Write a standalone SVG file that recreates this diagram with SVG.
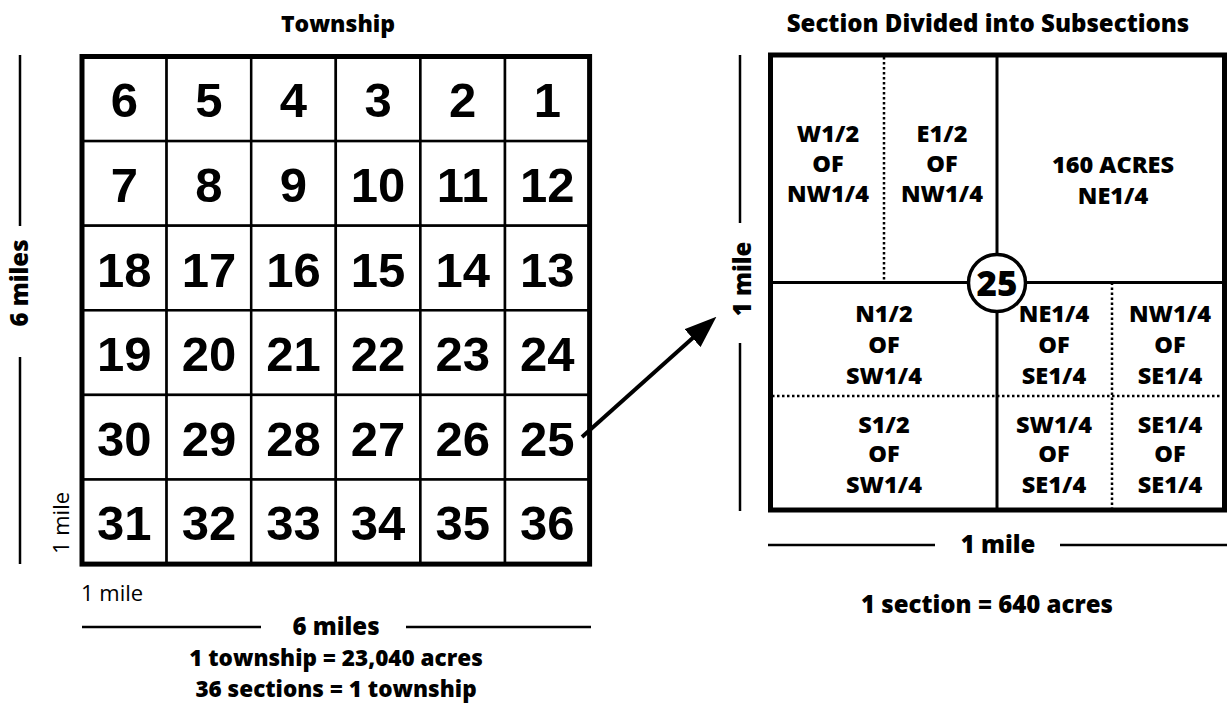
<svg xmlns="http://www.w3.org/2000/svg" width="1231" height="703" viewBox="0 0 1231 703">
<style>
.num{font-family:"Liberation Sans",Arial,sans-serif;font-weight:bold;font-size:49px;text-anchor:middle;fill:#000}
.lbl{font-family:"Open Sans","Noto Sans",sans-serif;font-weight:800;font-size:24px;text-anchor:middle;fill:#000}
.sub{font-family:"Open Sans","Noto Sans",sans-serif;font-weight:800;font-size:23.5px;text-anchor:middle;fill:#000}
.foot{font-family:"Open Sans","Noto Sans",sans-serif;font-weight:800;font-size:22.5px;text-anchor:middle;fill:#000}
.reg{font-family:"Open Sans","Noto Sans",sans-serif;font-weight:normal;font-size:22px;fill:#000}
.cell{fill:#fff;stroke:#000;stroke-width:2.5}
.outer{fill:none;stroke:#000;stroke-width:5}
.thin{stroke:#000;stroke-width:2.5;fill:none}
.mid{stroke:#000;stroke-width:3;fill:none}
.dot{stroke:#000;stroke-width:2.5;stroke-dasharray:2.5 2.5;fill:none}
</style>
<defs>
<marker id="ah" markerUnits="userSpaceOnUse" markerWidth="32" markerHeight="24" refX="10" refY="12" orient="auto">
<path d="M0,0 L32,12 L0,24 Z" fill="#000"/>
</marker>
</defs>
<rect width="1231" height="703" fill="#fff"/>

<!-- Township -->
<g id="township">
<text class="lbl" x="338" y="32" style="font-size:23px">Township</text>
<g id="grid-cells">
<rect class="cell" x="82" y="56.5" width="84.6" height="84.6"/><rect class="cell" x="166.6" y="56.5" width="84.6" height="84.6"/><rect class="cell" x="251.2" y="56.5" width="84.6" height="84.6"/><rect class="cell" x="335.8" y="56.5" width="84.6" height="84.6"/><rect class="cell" x="420.4" y="56.5" width="84.6" height="84.6"/><rect class="cell" x="505" y="56.5" width="84.6" height="84.6"/>
<rect class="cell" x="82" y="141.1" width="84.6" height="84.6"/><rect class="cell" x="166.6" y="141.1" width="84.6" height="84.6"/><rect class="cell" x="251.2" y="141.1" width="84.6" height="84.6"/><rect class="cell" x="335.8" y="141.1" width="84.6" height="84.6"/><rect class="cell" x="420.4" y="141.1" width="84.6" height="84.6"/><rect class="cell" x="505" y="141.1" width="84.6" height="84.6"/>
<rect class="cell" x="82" y="225.7" width="84.6" height="84.6"/><rect class="cell" x="166.6" y="225.7" width="84.6" height="84.6"/><rect class="cell" x="251.2" y="225.7" width="84.6" height="84.6"/><rect class="cell" x="335.8" y="225.7" width="84.6" height="84.6"/><rect class="cell" x="420.4" y="225.7" width="84.6" height="84.6"/><rect class="cell" x="505" y="225.7" width="84.6" height="84.6"/>
<rect class="cell" x="82" y="310.3" width="84.6" height="84.6"/><rect class="cell" x="166.6" y="310.3" width="84.6" height="84.6"/><rect class="cell" x="251.2" y="310.3" width="84.6" height="84.6"/><rect class="cell" x="335.8" y="310.3" width="84.6" height="84.6"/><rect class="cell" x="420.4" y="310.3" width="84.6" height="84.6"/><rect class="cell" x="505" y="310.3" width="84.6" height="84.6"/>
<rect class="cell" x="82" y="394.9" width="84.6" height="84.6"/><rect class="cell" x="166.6" y="394.9" width="84.6" height="84.6"/><rect class="cell" x="251.2" y="394.9" width="84.6" height="84.6"/><rect class="cell" x="335.8" y="394.9" width="84.6" height="84.6"/><rect class="cell" x="420.4" y="394.9" width="84.6" height="84.6"/><rect class="cell" x="505" y="394.9" width="84.6" height="84.6"/>
<rect class="cell" x="82" y="479.5" width="84.6" height="84.6"/><rect class="cell" x="166.6" y="479.5" width="84.6" height="84.6"/><rect class="cell" x="251.2" y="479.5" width="84.6" height="84.6"/><rect class="cell" x="335.8" y="479.5" width="84.6" height="84.6"/><rect class="cell" x="420.4" y="479.5" width="84.6" height="84.6"/><rect class="cell" x="505" y="479.5" width="84.6" height="84.6"/>
<rect class="outer" x="82" y="56.5" width="507.6" height="507.6"/>
</g>
<g id="sec-6"><text class="num" x="124.3" y="117.3">6</text></g>
<g id="sec-5"><text class="num" x="208.9" y="117.3">5</text></g>
<g id="sec-4"><text class="num" x="293.5" y="117.3">4</text></g>
<g id="sec-3"><text class="num" x="378.1" y="117.3">3</text></g>
<g id="sec-2"><text class="num" x="462.7" y="117.3">2</text></g>
<g id="sec-1"><text class="num" x="547.3" y="117.3">1</text></g>
<g id="sec-7"><text class="num" x="124.3" y="201.9">7</text></g>
<g id="sec-8"><text class="num" x="208.9" y="201.9">8</text></g>
<g id="sec-9"><text class="num" x="293.5" y="201.9">9</text></g>
<g id="sec-10"><text class="num" x="378.1" y="201.9">10</text></g>
<g id="sec-11"><text class="num" x="462.7" y="201.9">11</text></g>
<g id="sec-12"><text class="num" x="547.3" y="201.9">12</text></g>
<g id="sec-18"><text class="num" x="124.3" y="286.5">18</text></g>
<g id="sec-17"><text class="num" x="208.9" y="286.5">17</text></g>
<g id="sec-16"><text class="num" x="293.5" y="286.5">16</text></g>
<g id="sec-15"><text class="num" x="378.1" y="286.5">15</text></g>
<g id="sec-14"><text class="num" x="462.7" y="286.5">14</text></g>
<g id="sec-13"><text class="num" x="547.3" y="286.5">13</text></g>
<g id="sec-19"><text class="num" x="124.3" y="371.1">19</text></g>
<g id="sec-20"><text class="num" x="208.9" y="371.1">20</text></g>
<g id="sec-21"><text class="num" x="293.5" y="371.1">21</text></g>
<g id="sec-22"><text class="num" x="378.1" y="371.1">22</text></g>
<g id="sec-23"><text class="num" x="462.7" y="371.1">23</text></g>
<g id="sec-24"><text class="num" x="547.3" y="371.1">24</text></g>
<g id="sec-30"><text class="num" x="124.3" y="455.7">30</text></g>
<g id="sec-29"><text class="num" x="208.9" y="455.7">29</text></g>
<g id="sec-28"><text class="num" x="293.5" y="455.7">28</text></g>
<g id="sec-27"><text class="num" x="378.1" y="455.7">27</text></g>
<g id="sec-26"><text class="num" x="462.7" y="455.7">26</text></g>
<g id="sec-25"><text class="num" x="547.3" y="455.7">25</text></g>
<g id="sec-31"><text class="num" x="124.3" y="540.3">31</text></g>
<g id="sec-32"><text class="num" x="208.9" y="540.3">32</text></g>
<g id="sec-33"><text class="num" x="293.5" y="540.3">33</text></g>
<g id="sec-34"><text class="num" x="378.1" y="540.3">34</text></g>
<g id="sec-35"><text class="num" x="462.7" y="540.3">35</text></g>
<g id="sec-36"><text class="num" x="547.3" y="540.3">36</text></g>
</g>

<!-- Township dimensions -->
<g id="township-dims">
<line class="thin" x1="20" y1="55" x2="20" y2="226"/>
<line class="thin" x1="20" y1="357" x2="20" y2="564"/>
<text class="lbl" transform="translate(28,283) rotate(-90)">6 miles</text>
<text class="reg" text-anchor="middle" transform="translate(69,523) rotate(-90)">1 mile</text>
<text class="reg" x="81" y="601">1 mile</text>
<line class="thin" x1="82" y1="627" x2="261" y2="627"/>
<line class="thin" x1="406" y1="627" x2="591" y2="627"/>
<text class="lbl" x="336" y="635">6 miles</text>
<text class="foot" x="336" y="666">1 township = 23,040 acres</text>
<text class="foot" x="336" y="697">36 sections = 1 township</text>
</g>

<!-- Section -->
<g id="section">
<text class="lbl" x="988" y="32">Section Divided into Subsections</text>
<rect x="770.5" y="55" width="454" height="455" fill="#fff"/>
<line class="dot" x1="884" y1="57" x2="884" y2="282.5"/>
<line class="dot" x1="1112" y1="282.5" x2="1112" y2="508"/>
<line class="dot" x1="772" y1="396" x2="1222" y2="396"/>
<line class="mid" x1="997" y1="55" x2="997" y2="510"/>
<line class="mid" x1="770.5" y1="282.5" x2="1224.5" y2="282.5"/>
<rect class="outer" x="770.5" y="55" width="454" height="455"/>
<g id="sub-w-nw"><text class="sub" x="828" y="141.5">W1/2</text><text class="sub" x="828" y="171.5">OF</text><text class="sub" x="828" y="202">NW1/4</text></g>
<g id="sub-e-nw"><text class="sub" x="942" y="141.5">E1/2</text><text class="sub" x="942" y="171.5">OF</text><text class="sub" x="942" y="202">NW1/4</text></g>
<g id="sub-ne"><text class="sub" x="1113" y="173">160 ACRES</text><text class="sub" x="1113" y="204">NE1/4</text></g>
<g id="sub-n-sw"><text class="sub" x="884" y="321.5">N1/2</text><text class="sub" x="884" y="352.5">OF</text><text class="sub" x="884" y="384">SW1/4</text></g>
<g id="sub-ne-se"><text class="sub" x="1054" y="321.5">NE1/4</text><text class="sub" x="1054" y="352.5">OF</text><text class="sub" x="1054" y="384">SE1/4</text></g>
<g id="sub-nw-se"><text class="sub" x="1170" y="321.5">NW1/4</text><text class="sub" x="1170" y="352.5">OF</text><text class="sub" x="1170" y="384">SE1/4</text></g>
<g id="sub-s-sw"><text class="sub" x="884" y="432.5">S1/2</text><text class="sub" x="884" y="462">OF</text><text class="sub" x="884" y="492.5">SW1/4</text></g>
<g id="sub-sw-se"><text class="sub" x="1054" y="432.5">SW1/4</text><text class="sub" x="1054" y="462">OF</text><text class="sub" x="1054" y="492.5">SE1/4</text></g>
<g id="sub-se-se"><text class="sub" x="1170" y="432.5">SE1/4</text><text class="sub" x="1170" y="462">OF</text><text class="sub" x="1170" y="492.5">SE1/4</text></g>
<g id="section-badge"><circle cx="997" cy="283" r="28.5" fill="#fff" stroke="#000" stroke-width="3.5"/><text class="lbl" x="997" y="295.5" style="font-size:35px">25</text></g>
</g>

<!-- Section dimensions -->
<g id="section-dims">
<line class="thin" x1="740" y1="55" x2="740" y2="223"/>
<line class="thin" x1="740" y1="343" x2="740" y2="511"/>
<text class="lbl" transform="translate(751,279) rotate(-90)">1 mile</text>
<line class="thin" x1="768" y1="545" x2="935" y2="545"/>
<line class="thin" x1="1060" y1="545" x2="1227" y2="545"/>
<text class="lbl" x="998" y="553">1 mile</text>
<text class="lbl" x="987" y="613">1 section = 640 acres</text>
</g>

<!-- Connectors -->
<g id="connectors">
<line x1="582" y1="437" x2="700" y2="331.5" stroke="#000" stroke-width="4" marker-end="url(#ah)"/>
</g>
</svg>
